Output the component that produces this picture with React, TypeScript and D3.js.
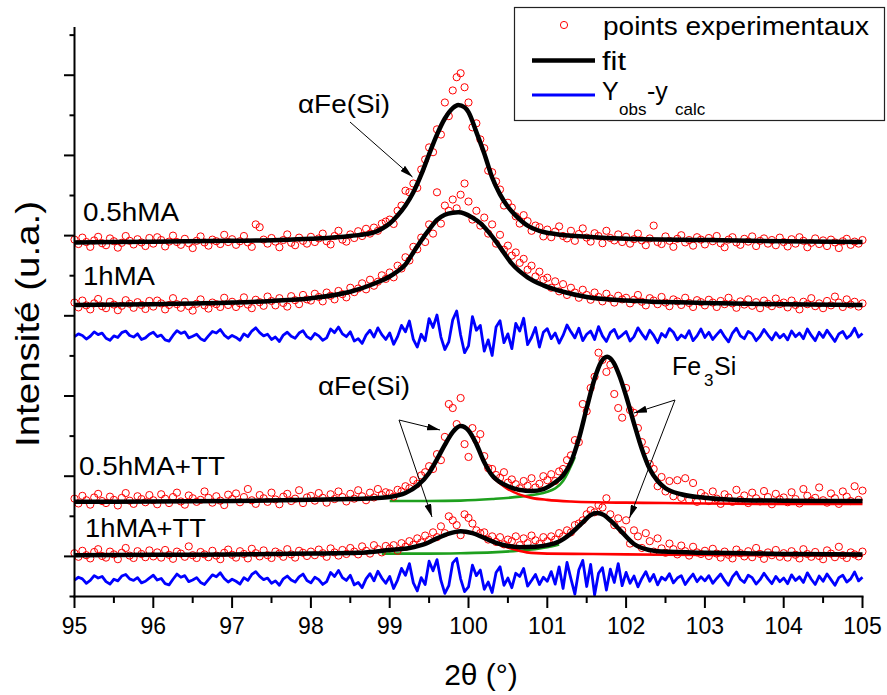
import React from "react";
import * as d3 from "d3";

// ---------- data (intensities in arbitrary units x100) ----------
const X_START = 95;
const X_STEP = 0.05;

const OBS_05MA = [
  890, 879, 895, 884, 872, 888, 897, 881, 876, 893, 886, 870, 882, 899, 887, 878, 891, 883, 874, 894,
  880, 896, 889, 873, 885, 900, 884, 877, 892, 881, 869, 887, 898, 883, 875, 890, 886, 879, 902, 884,
  891, 877, 886, 899, 883, 872, 928, 921, 890, 880, 894, 885, 871, 889, 903, 882, 876, 895, 887, 880,
  897, 884, 893, 905, 886, 878, 899, 912, 890, 885, 903, 894, 911, 899, 917, 905, 920, 912, 930, 935,
  940, 929, 962, 975, 1012, 1008, 1030, 1019, 1065, 1090, 1120, 1108, 1165, 1152, 1232, 1198, 1262, 1295, 1305, 1270,
  1232, 1170, 1180, 1140, 1118, 1062, 1058, 1035, 1015, 975, 982, 970, 948, 930, 951, 936, 912, 925, 921, 898,
  915, 896, 910, 923, 899, 893, 912, 887, 904, 918, 895, 885, 906, 899, 881, 912, 894, 888, 903, 884,
  897, 880, 891, 905, 888, 876, 893, 925, 884, 879, 898, 887, 872, 892, 901, 883, 889, 875, 896, 890,
  878, 894, 886, 899, 881, 871, 890, 896, 883, 877, 892, 885, 898, 874, 887, 893, 880, 889, 876, 895,
  884, 873, 891, 880, 896, 887, 871, 882, 893, 879, 888, 874, 890, 883, 869, 886, 892, 877, 885, 880, 889,
];

const OBS_1MA = [
  733, 721, 738, 726, 716, 731, 742, 724, 719, 735, 728, 714, 725, 739, 730, 720, 734, 727, 717, 737,
  723, 738, 731, 716, 727, 744, 729, 720, 735, 724, 713, 730, 741, 726, 718, 733, 729, 722, 745, 727,
  735, 722, 731, 746, 728, 719, 740, 734, 725, 748, 737, 726, 744, 732, 723, 749, 739, 729, 752, 741,
  738, 755, 747, 736, 758, 750, 741, 762, 754, 746, 770, 759, 768, 781, 766, 790, 775, 785, 801, 792,
  808, 796, 825, 818, 846, 838, 872, 866, 895, 884, 928, 905, 1008, 930, 975, 962, 990, 968, 1002, 1030,
  985, 940, 962, 925, 945, 905, 928, 880, 902, 865, 875, 850, 858, 832, 842, 815, 825, 798, 810, 790,
  795, 770, 786, 761, 779, 752, 770, 758, 745, 765, 752, 740, 758, 747, 736, 755, 743, 733, 750, 741,
  745, 731, 740, 752, 735, 726, 744, 738, 729, 747, 733, 724, 741, 736, 727, 745, 732, 722, 739, 734,
  726, 740, 733, 722, 737, 729, 745, 731, 720, 736, 728, 741, 725, 734, 719, 738, 730, 724, 743, 729,
  733, 721, 738, 727, 716, 735, 729, 744, 724, 731, 719, 737, 726, 748, 733, 722, 741, 728, 735, 723, 731,
];

const RES_1MA = [
  648, 655, 651, 642, 649, 660, 653, 657, 644, 639, 650, 646, 658, 662, 651, 647, 655, 641, 645, 654,
  659, 648, 652, 640, 637, 651, 663, 656, 660, 645, 649, 654, 643, 638, 650, 661, 657, 666, 652, 644,
  651, 646, 639, 655, 648, 662, 670, 658, 650, 654, 641, 647, 636, 652, 659, 649, 644, 657, 663, 648,
  642, 656, 650, 639, 645, 667, 658, 672, 655, 648, 660, 637, 643, 631, 652, 664, 647, 670, 653, 641,
  657, 629, 648, 676, 660, 687, 641, 622, 654, 638, 693, 671, 702, 647, 616, 635, 690, 712, 652, 608,
  625, 698, 664, 676, 612, 640, 601, 672, 688, 633, 655, 618, 681, 662, 694, 628, 646, 671, 622, 659,
  668, 643, 657, 632, 651, 677, 660, 645, 669, 638, 654, 662, 641, 673, 650, 636, 658, 666, 644, 652,
  661, 637, 648, 670, 655, 642, 664, 651, 633, 656, 647, 668, 659, 640, 652, 645, 663, 638, 650, 667,
  646, 659, 641, 653, 664, 648, 635, 657, 669, 650, 643, 661, 655, 638, 649, 666, 652, 640, 658, 645,
  654, 640, 662, 648, 657, 643, 667, 651, 638, 659, 646, 664, 650, 636, 655, 661, 644, 652, 669, 647, 656,
];

const OBS_05MA_TT = [
  244, 232, 251, 240, 229, 247, 256, 238, 233, 249, 241, 227, 246, 258, 239, 231, 250, 243, 235, 253,
  240, 230, 255, 244, 233, 248, 259, 237, 229, 252, 245, 236, 241, 262, 246, 234, 250, 239, 228, 254,
  243, 257, 235, 248, 268, 240, 231, 253, 245, 236, 259, 242, 230, 249, 256, 238, 244, 265, 233, 247,
  251, 239, 258, 246, 234, 255, 243, 262, 248, 237, 256, 244, 265, 250, 240, 259, 247, 268, 253, 260,
  257, 249, 266, 262, 275, 270, 290, 281, 302, 310, 325, 318, 355, 340, 398, 480, 470, 430, 495, 380,
  348, 420, 390, 405, 350, 320, 318, 303, 296, 310, 284, 292, 280, 270, 288, 276, 295, 272, 281, 300,
  290, 305, 288, 312, 318, 340, 352, 390, 385, 480, 462, 520, 548, 608, 590, 560, 578, 505, 470, 446,
  520, 465, 458, 420, 385, 365, 330, 318, 275, 298, 262, 288, 250, 290, 246, 295, 241, 283, 236, 258,
  250, 238, 262, 244, 231, 255, 247, 236, 266, 241, 252, 233, 259, 245, 237, 263, 248, 230, 256, 242,
  247, 235, 260, 243, 232, 268, 251, 239, 246, 272, 240, 234, 257, 245, 231, 262, 249, 238, 275, 241, 264,
];

const OBS_1MA_TT = [
  108, 99, 114, 103, 95, 111, 118, 101, 97, 112, 105, 93, 109, 121, 102, 96, 113, 106, 98, 115,
  100, 110, 97, 116, 104, 94, 112, 107, 99, 125, 103, 96, 111, 105, 98, 114, 102, 93, 109, 117,
  104, 97, 113, 106, 95, 119, 108, 100, 115, 103, 96, 112, 107, 99, 118, 105, 97, 114, 109, 101,
  112, 103, 117, 108, 99, 120, 110, 102, 116, 106, 121, 112, 105, 125, 114, 107, 128, 118, 110, 126,
  120, 128, 114, 133, 124, 138, 129, 145, 135, 152, 141, 160, 148, 175, 158, 200, 190, 178, 153, 205,
  196, 182, 165, 158, 160, 142, 150, 136, 148, 130, 142, 138, 150, 128, 145, 133, 152, 140, 131, 148,
  138, 150, 142, 158, 150, 165, 160, 178, 182, 190, 205, 215, 210, 228, 222, 245, 205, 178, 195, 165,
  190, 132, 165, 150, 121, 158, 138, 112, 145, 120, 109, 132, 118, 105, 127, 113, 102, 124, 110, 106,
  114, 101, 119, 107, 97, 112, 104, 95, 117, 108, 100, 113, 98, 121, 106, 94, 110, 103, 116, 99,
  108, 97, 113, 104, 95, 118, 106, 99, 111, 101, 93, 115, 107, 98, 124, 103, 96, 110, 105, 100, 112,
];

const RES_1MA_TT = [
  41, 48, 44, 33, 40, 52, 46, 50, 37, 31, 43, 39, 51, 55, 44, 40, 47, 34, 38, 46,
  53, 41, 45, 32, 29, 43, 56, 48, 52, 37, 41, 47, 35, 30, 42, 54, 49, 59, 45, 36,
  43, 38, 31, 47, 40, 55, 62, 50, 42, 46, 33, 39, 28, 44, 51, 41, 36, 49, 56, 40,
  34, 48, 42, 30, 37, 60, 50, 65, 47, 40, 53, 29, 35, 22, 44, 57, 39, 63, 46, 33,
  50, 20, 41, 70, 53, 82, 34, 14, 47, 30, 88, 64, 92, 40, 8, 27, 84, 95, 44, 12,
  24, 78, 52, 66, 18, 36, 10, 60, 74, 28, 46, 22, 58, 50, 70, 26, 40, 55, 30, 48,
  38, 62, 31, 74, 20, 85, 44, 6, 66, 90, 25, 80, 4, 58, 72, 16, 68, 35, 82, 27,
  60, 33, 51, 24, 45, 62, 38, 55, 29, 48, 41, 57, 34, 46, 52, 30, 44, 56, 37, 49,
  39, 52, 33, 45, 56, 40, 28, 49, 61, 43, 35, 53, 47, 31, 42, 58, 44, 32, 50, 37,
  46, 32, 54, 40, 49, 35, 59, 43, 30, 51, 38, 56, 42, 28, 47, 53, 36, 44, 61, 39, 48,
];

// fitted curves (sampled)
const FIT_05MA_X = [95, 96, 97, 97.6, 98, 98.5, 98.8, 98.9, 99, 99.1, 99.2, 99.3, 99.4, 99.5, 99.6, 99.7, 99.8, 99.87, 99.95, 100, 100.1, 100.2, 100.3, 100.4, 100.5, 100.6, 100.75, 100.9, 101.1, 101.5, 102, 103, 104, 105];
const FIT_05MA_Y = [883, 885, 887, 889, 892, 899, 908, 917, 930, 950, 975, 1008, 1052, 1103, 1152, 1192, 1218, 1226, 1220, 1208, 1158, 1105, 1045, 1003, 972, 950, 925, 912, 904, 897, 892, 889, 886, 884];

const FIT_1MA_X = [95, 96, 97, 97.5, 98, 98.5, 98.8, 99, 99.1, 99.2, 99.3, 99.4, 99.5, 99.6, 99.7, 99.8, 99.87, 99.95, 100.05, 100.15, 100.25, 100.35, 100.45, 100.55, 100.75, 100.95, 101.2, 101.5, 102, 103, 104, 105];
const FIT_1MA_Y = [727, 729, 733, 737, 744, 760, 780, 798, 811, 828, 858, 888, 915, 939, 952, 957, 958, 955, 945, 931, 910, 885, 857, 830, 796, 776, 760, 747, 738, 732, 729, 727];

const FIT_05MA_TT_X = [95, 96, 97, 98, 98.5, 98.8, 99, 99.2, 99.35, 99.5, 99.6, 99.7, 99.8, 99.9, 100, 100.1, 100.2, 100.3, 100.4, 100.5, 100.65, 100.8, 100.95, 101.1, 101.2, 101.3, 101.4, 101.5, 101.6, 101.68, 101.76, 101.84, 101.92, 102, 102.1, 102.2, 102.3, 102.4, 102.5, 102.7, 103, 103.5, 104, 105];
const FIT_05MA_TT_Y = [236, 237, 238, 241, 243, 245, 248, 258, 276, 308, 342, 378, 410, 425, 414, 380, 335, 302, 285, 275, 266, 263, 268, 285, 302, 335, 393, 470, 543, 584, 598, 584, 548, 500, 432, 368, 318, 288, 270, 255, 246, 240, 239, 238];
const FE3SI_05MA_TT_X = [99, 99.5, 99.9, 100.3, 100.65, 101, 101.2, 101.35];
const FE3SI_05MA_TT_Y = [238, 238, 239, 243, 249, 261, 288, 348];
const AFE_05MA_TT_X = [100.3, 100.4, 100.5, 100.65, 100.8, 101, 101.3, 101.6, 102, 102.5, 103, 104, 105];
const AFE_05MA_TT_Y = [298, 282, 268, 254, 246, 241, 237, 235, 234, 233, 232, 231, 231];

const FIT_1MA_TT_X = [95, 96, 97, 98, 98.6, 99, 99.25, 99.45, 99.6, 99.75, 99.9, 100.05, 100.2, 100.35, 100.5, 100.65, 100.85, 101, 101.15, 101.3, 101.45, 101.55, 101.63, 101.72, 101.82, 101.95, 102.1, 102.25, 102.45, 103, 103.5, 104, 105];
const FIT_1MA_TT_Y = [103, 104, 105, 107, 109, 116, 121, 131, 145, 157, 163, 158, 146, 134, 126, 123, 124, 128, 137, 157, 185, 203, 208, 203, 186, 160, 131, 118, 112, 109, 108, 106, 105];
const FE3SI_1MA_TT_X = [98.9, 99.2, 99.5, 99.9, 100.3, 100.74, 101, 101.15];
const FE3SI_1MA_TT_Y = [107, 107, 107, 108, 110, 116, 123, 130];
const AFE_1MA_TT_X = [100.35, 100.5, 100.74, 101, 101.58, 102.5, 103.44, 105];
const AFE_1MA_TT_Y = [132, 122, 110, 107, 106, 104, 103, 102];

const X_TICK_LABELS = ["95", "96", "97", "98", "99", "100", "101", "102", "103", "104", "105"];
const SAMPLE_LABELS = ["0.5hMA", "1hMA", "0.5hMA+TT", "1hMA+TT"];

// ---------- drawing ----------
const FONT = "'Liberation Sans', Arial, Helvetica, sans-serif";
type Pt = [number, number];
const zip = (xs: number[], ys: number[]): Pt[] => xs.map((v, i) => [v, ys[i]] as Pt);

export default function App() {
  const W = 887;
  const H = 695;
  const x = d3.scaleLinear().domain([95, 105]).range([74.5, 862.5]);
  const y = d3.scaleLinear().domain([0, 1420]).range([596.5, 27.1]);
  const gx = (i: number) => X_START + i * X_STEP;

  const smooth = d3
    .line<Pt>()
    .x((d) => x(d[0]))
    .y((d) => y(d[1]))
    .curve(d3.curveMonotoneX);
  const jag = d3
    .line<number>()
    .x((_, i) => x(gx(i)))
    .y((d) => y(d));

  const xMinor = d3.range(95, 105.001, 0.5);
  const yTicks = d3.range(0, 1401, 100);

  const obsSets = [OBS_05MA, OBS_1MA, OBS_05MA_TT, OBS_1MA_TT];
  const fits = [
    zip(FIT_05MA_X, FIT_05MA_Y),
    zip(FIT_1MA_X, FIT_1MA_Y),
    zip(FIT_05MA_TT_X, FIT_05MA_TT_Y),
    zip(FIT_1MA_TT_X, FIT_1MA_TT_Y),
  ];
  const greens = [zip(FE3SI_05MA_TT_X, FE3SI_05MA_TT_Y), zip(FE3SI_1MA_TT_X, FE3SI_1MA_TT_Y)];
  const reds = [zip(AFE_05MA_TT_X, AFE_05MA_TT_Y), zip(AFE_1MA_TT_X, AFE_1MA_TT_Y)];

  const labelPos = [
    { x: 83, y: 220.5, len: 96 },
    { x: 83, y: 285, len: 72 },
    { x: 79, y: 475, len: 146 },
    { x: 85, y: 536.5, len: 121 },
  ];

  return (
    <svg
      width={W}
      height={H}
      viewBox={`0 0 ${W} ${H}`}
      style={{ position: "absolute", left: 0, top: 0, background: "#fff" }}
      fontFamily={FONT}
    >
      <defs>
        <marker
          id="arrowHead"
          viewBox="0 0 13 7"
          refX="13"
          refY="3.5"
          markerWidth="13"
          markerHeight="7"
          markerUnits="userSpaceOnUse"
          orient="auto"
        >
          <path d="M0,0 L13,3.5 L0,7 z" fill="#000" />
        </marker>
      </defs>
      <rect x={0} y={0} width={W} height={H} fill="#fff" />

      {/* component curves */}
      {greens.map((g, k) => (
        <path key={`g${k}`} d={smooth(g) || ""} fill="none" stroke="#1ea01e" strokeWidth={2.6} />
      ))}
      {reds.map((r, k) => (
        <path key={`r${k}`} d={smooth(r) || ""} fill="none" stroke="#ff0000" strokeWidth={2.6} />
      ))}

      {/* experimental points */}
      {obsSets.map((set, k) => (
        <g key={`o${k}`}>
          {set.map((v, i) => (
            <circle
              key={i}
              cx={x(gx(i))}
              cy={y(v)}
              r={3.6}
              fill="none"
              stroke="#ff0000"
              strokeWidth={1}
            />
          ))}
        </g>
      ))}

      {/* fits */}
      {fits.map((f, k) => (
        <path key={`f${k}`} d={smooth(f) || ""} fill="none" stroke="#000" strokeWidth={4.5} strokeLinejoin="round" />
      ))}

      {/* residuals */}
      {[RES_1MA, RES_1MA_TT].map((r, k) => (
        <path key={`res${k}`} d={jag(r) || ""} fill="none" stroke="#0000ff" strokeWidth={2.8} strokeLinejoin="round" />
      ))}

      {/* axes */}
      <line x1={74.5} x2={74.5} y1={y(1420)} y2={y(0) + 1} stroke="#000" strokeWidth={2} />
      <line x1={73.5} x2={863.5} y1={596.5} y2={596.5} stroke="#000" strokeWidth={2} />
      {yTicks.map((t) => {
        const long = Math.round(t / 100) % 2 === 1;
        return (
          <line key={`yt${t}`} x1={long ? 64 : 69.5} x2={74.5} y1={y(t)} y2={y(t)} stroke="#000" strokeWidth={2} />
        );
      })}
      {xMinor.map((t) => {
        const major = Math.abs(t - Math.round(t)) < 1e-6;
        return (
          <line key={`xt${t}`} x1={x(t)} x2={x(t)} y1={596.5} y2={major ? 608 : 603} stroke="#000" strokeWidth={2} />
        );
      })}
      {X_TICK_LABELS.map((lab, i) => (
        <text key={`xl${lab}`} x={x(95 + i)} y={634} textAnchor="middle" fontSize={23} fill="#000">
          {lab}
        </text>
      ))}

      {/* axis titles */}
      <text x={481} y={685} textAnchor="middle" fontSize={30} fill="#000">
        2θ (°)
      </text>
      <text
        transform="rotate(-90)"
        x={-324}
        y={39}
        textAnchor="middle"
        fontSize={34}
        fill="#000"
        textLength={246}
        lengthAdjust="spacingAndGlyphs"
      >
        Intensité (u.a.)
      </text>

      {/* sample labels */}
      {SAMPLE_LABELS.map((s, k) => (
        <text
          key={s}
          x={labelPos[k].x}
          y={labelPos[k].y}
          fontSize={25}
          fill="#000"
          textLength={labelPos[k].len}
          lengthAdjust="spacingAndGlyphs"
        >
          {s}
        </text>
      ))}

      {/* annotations */}
      <text x={298} y={113} fontSize={25} fill="#000" textLength={92} lengthAdjust="spacingAndGlyphs">
        αFe(Si)
      </text>
      <line x1={350} y1={122} x2={412.5} y2={177} stroke="#000" strokeWidth={1} markerEnd="url(#arrowHead)" />

      <text x={318} y={395} fontSize={25} fill="#000" textLength={92} lengthAdjust="spacingAndGlyphs">
        αFe(Si)
      </text>
      <line x1={399} y1={420} x2={440} y2={430} stroke="#000" strokeWidth={1} markerEnd="url(#arrowHead)" />
      <line x1={399} y1={420} x2={432} y2={517} stroke="#000" strokeWidth={1} markerEnd="url(#arrowHead)" />

      <text x={672} y={375} fontSize={25} fill="#000">
        Fe
      </text>
      <text x={704} y={386} fontSize={17} fill="#000">
        3
      </text>
      <text x={714} y={375} fontSize={25} fill="#000">
        Si
      </text>
      <line x1={675} y1={400} x2={634} y2={413} stroke="#000" strokeWidth={1} markerEnd="url(#arrowHead)" />
      <line x1={675} y1={400} x2={629.5} y2={518} stroke="#000" strokeWidth={1} markerEnd="url(#arrowHead)" />

      {/* legend */}
      <rect x={514.5} y={7.5} width={370} height={113} fill="#fff" stroke="#222" strokeWidth={1.2} />
      <circle cx={564} cy={25} r={3.6} fill="none" stroke="#ff0000" strokeWidth={1} />
      <text x={603} y={34.5} fontSize={25} fill="#000" textLength={266} lengthAdjust="spacingAndGlyphs">
        points experimentaux
      </text>
      <line x1={532} x2={595} y1={60.5} y2={60.5} stroke="#000" strokeWidth={4.5} />
      <text x={602} y={70} fontSize={25} fill="#000" textLength={24} lengthAdjust="spacingAndGlyphs">
        fit
      </text>
      <line x1={532} x2={595} y1={95} y2={95} stroke="#0000ff" strokeWidth={2.8} />
      <text x={602} y={100} fontSize={25} fill="#000">
        Y
      </text>
      <text x={619} y={115} fontSize={17} fill="#000">
        obs
      </text>
      <text x={647} y={100} fontSize={25} fill="#000">
        -y
      </text>
      <text x={675} y={115} fontSize={17} fill="#000">
        calc
      </text>
    </svg>
  );
}
